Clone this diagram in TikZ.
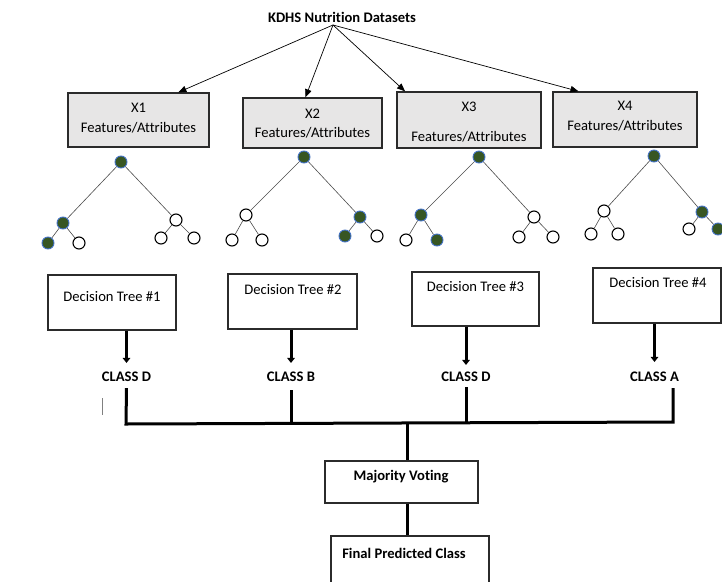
\documentclass[tikz,border=0pt]{standalone}
\usepackage{fontspec}
\setmainfont{Carlito}[Ligatures=NoCommon]
\usetikzlibrary{arrows.meta,calc}
\definecolor{boxgray}{HTML}{E7E6E6}
\definecolor{boxline}{HTML}{2B2B2B}
\definecolor{leafgreen}{HTML}{375623}
\definecolor{leafblue}{HTML}{4472C4}
\begin{document}
\begin{tikzpicture}[x=1pt,y=-1pt,
  txt/.style={font=\fontsize{14.6}{17}\selectfont, inner sep=0pt},
  btxt/.style={font=\fontsize{14.6}{17}\selectfont\bfseries, inner sep=0pt},
  xbox/.style={draw=boxline, line width=1.4pt, fill=boxgray, inner sep=0pt},
  dtbox/.style={draw=boxline, line width=1.4pt, fill=white, inner sep=0pt},
  on/.style={circle, minimum size=12pt, inner sep=0pt, fill=leafgreen, draw=leafblue, line width=0.9pt},
  off/.style={circle, minimum size=12pt, inner sep=0pt, fill=white, draw=black, line width=1.1pt},
  treeline/.style={draw=black!70, line width=0.6pt},
  tarr/.style={draw=black, line width=0.7pt, -{Triangle[length=8pt,width=6.5pt]}},
  karr/.style={draw=black, line width=3pt, -{Triangle[length=5pt,width=7.5pt]}},
  conn/.style={draw=black, line width=3pt, line join=miter}
]
\clip (0,0) rectangle (722,581);
\fill[white] (0,0) rectangle (722,581);

% title
\node[btxt] (T) at (342,17) {KDHS Nutrition Datasets};
\coordinate (apex) at (333,25);

% feature boxes
\node[xbox, minimum width=141pt, minimum height=54pt] (X1) at (138.5,120) {};
\node[xbox, minimum width=139pt, minimum height=50pt] (X2) at (312.5,123) {};
\node[xbox, minimum width=144pt, minimum height=56pt] (X3) at (469,120) {};
\node[xbox, minimum width=144pt, minimum height=55pt] (X4) at (625,119.5) {};

\node[txt] (X1a) at (138.5,108) {X1};
\node[txt] (X1b) at (138.5,128) {Features/Attributes};
\node[txt] (X2a) at (312.5,114) {X2};
\node[txt] (X2b) at (312.5,133) {Features/Attributes};
\node[txt] (X3a) at (469,107) {X3};
\node[txt] (X3b) at (469,137) {Features/Attributes};
\node[txt] (X4a) at (625,106) {X4};
\node[txt] (X4b) at (625,126) {Features/Attributes};

\draw[tarr] (apex) -- ($(X1.north west)!0.78!(X1.north east)$);
\draw[tarr] (apex) -- ($(X2.north west)!0.45!(X2.north east)$);
\draw[tarr] (apex) -- ($(X3.north west)!0.06!(X3.north east)$);
\draw[tarr] (apex) -- ($(X4.north west)!0.18!(X4.north east)$);

% tree 1
\node[on]  (a0) at (121,162) {};
\node[on]  (a1) at (63,223) {};
\node[off] (a2) at (176,220) {};
\node[on]  (a3) at (48,243) {};
\node[off] (a4) at (79,243) {};
\node[off] (a5) at (161,238) {};
\node[off] (a6) at (194,238) {};
\draw[treeline] (a0)--(a1) (a0)--(a2) (a1)--(a3) (a1)--(a4) (a2)--(a5) (a2)--(a6);
% tree 2
\node[on]  (b0) at (304,157) {};
\node[off] (b1) at (246,215) {};
\node[on]  (b2) at (360,217) {};
\node[off] (b3) at (232,240) {};
\node[off] (b4) at (262,240) {};
\node[on]  (b5) at (345,236) {};
\node[off] (b6) at (377,236) {};
\draw[treeline] (b0)--(b1) (b0)--(b2) (b1)--(b3) (b1)--(b4) (b2)--(b5) (b2)--(b6);
% tree 3
\node[on]  (c0) at (479,157) {};
\node[on]  (c1) at (421,215) {};
\node[off] (c2) at (534,217) {};
\node[off] (c3) at (406,240) {};
\node[on]  (c4) at (437,240) {};
\node[off] (c5) at (519,237) {};
\node[off] (c6) at (553,237) {};
\draw[treeline] (c0)--(c1) (c0)--(c2) (c1)--(c3) (c1)--(c4) (c2)--(c5) (c2)--(c6);
% tree 4
\node[on]  (d0) at (654,156) {};
\node[off] (d1) at (604,211) {};
\node[on]  (d2) at (702,212) {};
\node[off] (d3) at (591,234) {};
\node[off] (d4) at (618,234) {};
\node[off] (d5) at (689,229) {};
\node[on]  (d6) at (718,229) {};
\draw[treeline] (d0)--(d1) (d0)--(d2) (d1)--(d3) (d1)--(d4) (d2)--(d5) (d2)--(d6);

% decision tree boxes
\node[dtbox, minimum width=128pt, minimum height=55pt] (D1) at (112,302.5) {};
\node[dtbox, minimum width=129pt, minimum height=55pt] (D2) at (292.5,301.5) {};
\node[dtbox, minimum width=127pt, minimum height=54pt] (D3) at (475.5,299) {};
\node[dtbox, minimum width=128pt, minimum height=55pt] (D4) at (657,295.5) {};
\node[txt] (D1t) at (112,297) {Decision Tree \#1};
\node[txt] (D2t) at (293,290) {Decision Tree \#2};
\node[txt] (D3t) at (475.5,287) {Decision Tree \#3};
\node[txt] (D4t) at (658,283) {Decision Tree \#4};

% class labels
\node[btxt] (L1) at (126.5,377) {CLASS D};
\node[btxt] (L2) at (291,377) {CLASS B};
\node[btxt] (L3) at (466,377) {CLASS D};
\node[btxt] (L4) at (654.5,377) {CLASS A};

\draw[karr, shorten >=9pt] (D1.south -| L1.north) -- (L1.north);
\draw[karr, shorten >=9pt] (D2.south -| L2.north) -- (L2.north);
\draw[karr, shorten >=7pt] (D3.south -| L3.north) -- (L3.north);
\draw[karr, shorten >=10pt] (D4.south -| L4.north) -- (L4.north);

% bus
\coordinate (b1) at (126,424);
\coordinate (bm) at (407.5,423);
\coordinate (b4) at (673,422);
\coordinate (c4t) at (673,388);
\draw[conn] ($(L1.south)+(0,6)$) -- (b1) -- (b4) -- (c4t);
\draw[conn] ($(L2.south)+(0,8)$) -- (L2.south |- bm);
\draw[conn] ($(L3.south)+(0,5)$) -- (L3.south |- bm);
\draw[gray, line width=1pt] (102,398) -- (102,415);

% majority voting
\node[dtbox, minimum width=153pt, minimum height=42pt] (MV) at (401.5,482) {};
\node[btxt] (MVt) at (401,477) {Majority Voting};
\draw[conn] (bm) -- (MV.north -| bm);

% final
\node[dtbox, minimum width=158pt, minimum height=70pt] (FP) at (410,571) {};
\node[btxt] (FPt) at (404,553) {Final Predicted Class};
\draw[conn] (MV.south -| bm) -- (FP.north -| bm);
\end{tikzpicture}
\end{document}
